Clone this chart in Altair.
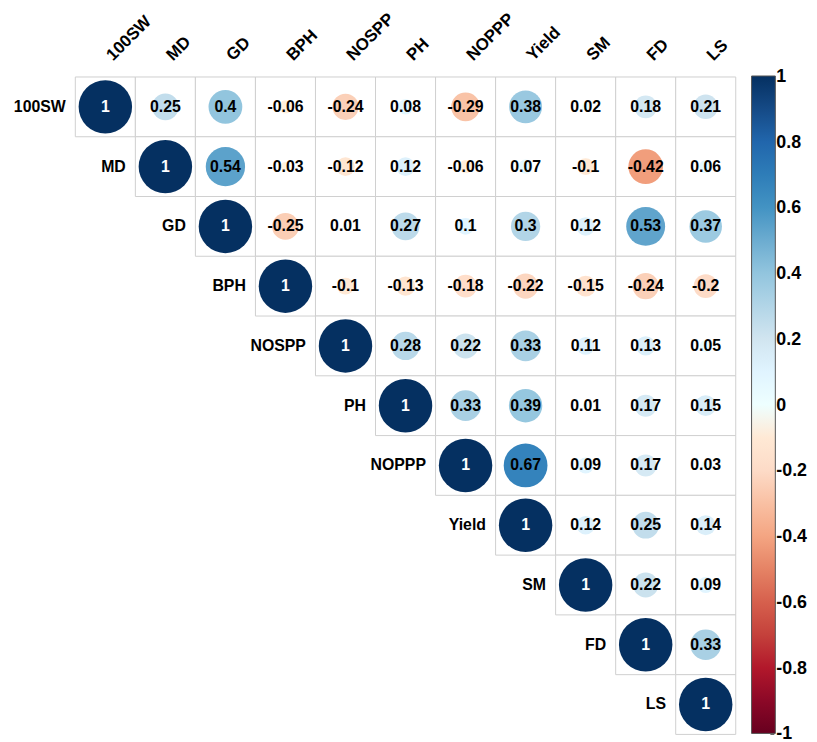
import altair as alt
import pandas as pd

variables = ["100SW", "MD", "GD", "BPH", "NOSPP", "PH", "NOPPP", "Yield", "SM", "FD", "LS"]

# upper-triangle rows (from the diagonal to the right)
r_100SW = [1, 0.25, 0.4, -0.06, -0.24, 0.08, -0.29, 0.38, 0.02, 0.18, 0.21]
r_MD = [1, 0.54, -0.03, -0.12, 0.12, -0.06, 0.07, -0.1, -0.42, 0.06]
r_GD = [1, -0.25, 0.01, 0.27, 0.1, 0.3, 0.12, 0.53, 0.37]
r_BPH = [1, -0.1, -0.13, -0.18, -0.22, -0.15, -0.24, -0.2]
r_NOSPP = [1, 0.28, 0.22, 0.33, 0.11, 0.13, 0.05]
r_PH = [1, 0.33, 0.39, 0.01, 0.17, 0.15]
r_NOPPP = [1, 0.67, 0.09, 0.17, 0.03]
r_Yield = [1, 0.12, 0.25, 0.14]
r_SM = [1, 0.22, 0.09]
r_FD = [1, 0.33]
r_LS = [1]

rows = [r_100SW, r_MD, r_GD, r_BPH, r_NOSPP, r_PH, r_NOPPP, r_Yield, r_SM, r_FD, r_LS]

legend_values = [-1, -0.8, -0.6, -0.4, -0.2, 0, 0.2, 0.4, 0.6, 0.8, 1]
rdbu = ["#67001F", "#B2182B", "#D6604D", "#F4A582", "#FDDBC7", "#FFFFFF",
        "#D1E5F0", "#92C5DE", "#4393C3", "#2166AC", "#053061"]

recs = []
for i, vals in enumerate(rows):
    for k, v in enumerate(vals):
        j = i + k
        recs.append({
            "row": variables[i],
            "col": variables[j],
            "value": v,
            "absval": abs(v),
            "label": f"{v:g}",
            "diag": 1 if i == j else 0,
        })
df = pd.DataFrame(recs)
lab_df = pd.DataFrame({"var": variables})
leg_df = pd.DataFrame({"v": legend_values, "lab": [f"{v:g}" for v in legend_values]})

FONT = "Liberation Sans"

xs = alt.Scale(domain=variables, paddingInner=0, paddingOuter=0)
ys = alt.Scale(domain=variables, paddingInner=0, paddingOuter=0)

base = alt.Chart(df)

cells = base.mark_rect(fill="white", stroke="#cfcfcf", strokeWidth=1).encode(
    x=alt.X("col:N", scale=xs, axis=None),
    y=alt.Y("row:N", scale=ys, axis=None),
)

circles = base.mark_circle(opacity=1).encode(
    x=alt.X("col:N", scale=xs, axis=None),
    y=alt.Y("row:N", scale=ys, axis=None),
    size=alt.Size("absval:Q", scale=alt.Scale(domain=[0, 1], range=[0, 2916]), legend=None),
    color=alt.Color(
        "value:Q",
        scale=alt.Scale(domain=legend_values, range=rdbu),
        title=None,
        legend=alt.Legend(
            orient="none", legendX=683, legendY=-1,
            direction="vertical",
            gradientLength=664, gradientThickness=24,
            gradientStrokeColor="#555555", gradientStrokeWidth=1,
            labelExpr="''", labelOpacity=0,
        ),
    ),
)

texts = base.mark_text(font=FONT, fontSize=16, fontWeight="bold", baseline="middle").encode(
    x=alt.X("col:N", scale=xs, axis=None),
    y=alt.Y("row:N", scale=ys, axis=None),
    text="label:N",
    fill=alt.condition("datum.diag == 1", alt.value("white"), alt.value("black")),
)

row_labels = alt.Chart(lab_df).mark_text(
    font=FONT, fontSize=16, fontWeight="bold", align="right", baseline="middle", dx=-40, fill="black"
).encode(
    x=alt.X("var:N", scale=xs, axis=None),
    y=alt.Y("var:N", scale=ys, axis=None),
    text="var:N",
)

col_labels = alt.Chart(lab_df).mark_text(
    font=FONT, fontSize=17, fontWeight="bold", align="left", baseline="middle", angle=315,
    fill="black", dx=6
).encode(
    x=alt.X("var:N", scale=xs, axis=None),
    y=alt.value(-15),
    text="var:N",
)

grid = alt.layer(cells, circles, texts, row_labels, col_labels)

ly = alt.Scale(domain=[-1, 1], nice=False, zero=False)
leg_ticks = alt.Chart(leg_df).mark_rule(stroke="#555555", strokeWidth=1).encode(
    y=alt.Y("v:Q", scale=ly, axis=None),
    x=alt.value(702),
    x2=alt.value(706),
)
leg_labels = alt.Chart(leg_df).mark_text(
    font=FONT, fontSize=18, fontWeight="bold", align="left", baseline="middle", fill="black"
).encode(
    y=alt.Y("v:Q", scale=ly, axis=None),
    x=alt.value(708),
    text="lab:N",
)
leg = alt.layer(leg_ticks, leg_labels)

chart = alt.layer(grid, leg).resolve_scale(y="independent").properties(
    width=667, height=664,
    autosize=alt.AutoSizeParams(type="none"),
    padding={"left": 68, "top": 66, "right": 74, "bottom": 4},
    background="white",
).configure_view(strokeWidth=0)

chart.save("out.html", embed_options={"renderer": "svg", "actions": False})
